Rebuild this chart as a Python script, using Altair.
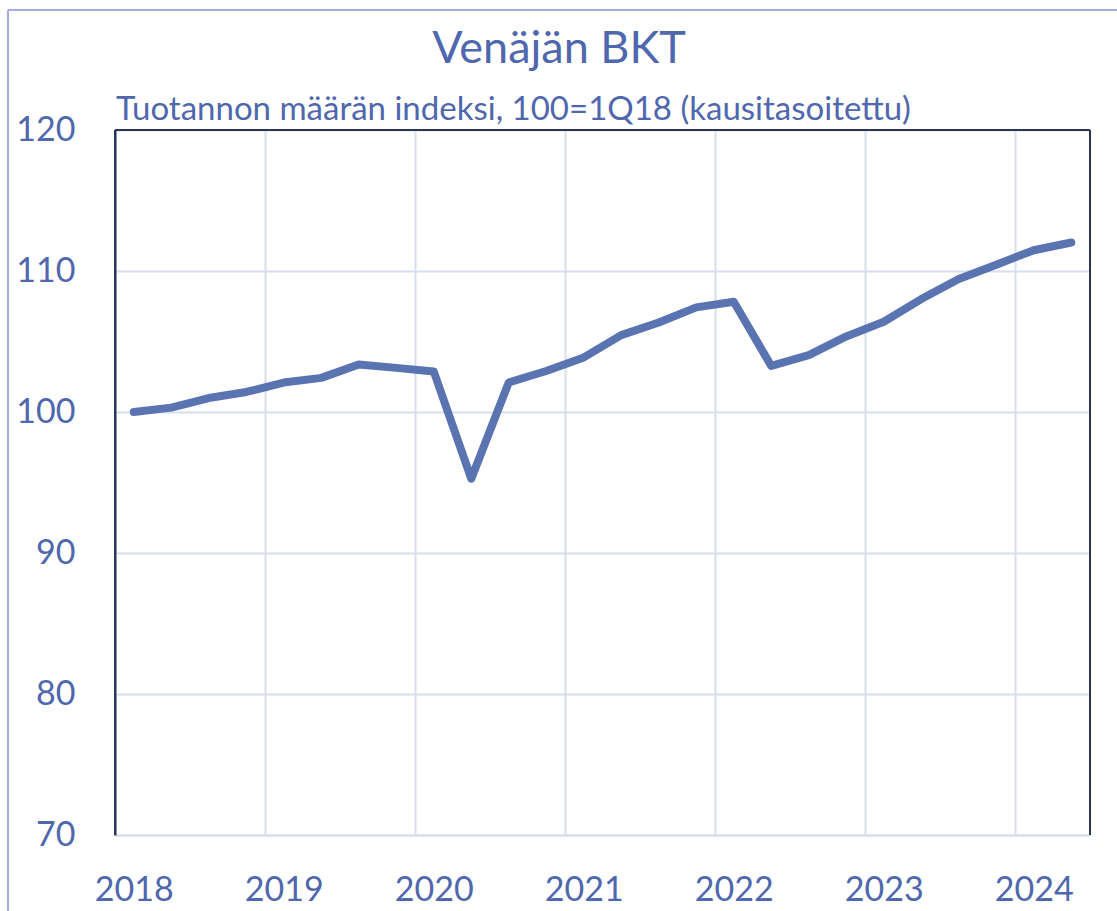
import altair as alt
import pandas as pd

quarters = ["1Q18", "2Q18", "3Q18", "4Q18",
            "1Q19", "2Q19", "3Q19", "4Q19",
            "1Q20", "2Q20", "3Q20", "4Q20",
            "1Q21", "2Q21", "3Q21", "4Q21",
            "1Q22", "2Q22", "3Q22", "4Q22",
            "1Q23", "2Q23", "3Q23", "4Q23",
            "1Q24", "2Q24"]
gdp_index = [100.0, 100.31, 100.99, 101.42,
             102.09, 102.42, 103.37, 103.13,
             102.87, 95.27, 102.09, 102.91,
             103.87, 105.45, 106.35, 107.42,
             107.82, 103.27, 104.03, 105.36,
             106.4, 108.01, 109.43, 110.45,
             111.47, 112.02]
years = [2018, 2019, 2020, 2021, 2022, 2023, 2024]
y_ticks = [70, 80, 90, 100, 110, 120]
title_text = "Venäjän BKT"
subtitle_text = "Tuotannon määrän indeksi, 100=1Q18 (kausitasoitettu)"

TEXT = "#4F67AD"
LINE = "#5A74B2"
GRID = "#D9DEEE"
BORDER = "#2B3556"
FRAME = "#A3AEDB"
FONT = "Lato"

W, H = 975, 705

# quarter label "nQyy" -> position at the middle of that quarter
t_pos = [2000 + int(q[2:]) + (int(q[0]) - 1) / 4 + 0.125 for q in quarters]
df = pd.DataFrame({"q": quarters, "t": t_pos, "v": gdp_index})

x_enc = alt.X(
    "t:Q",
    scale=alt.Scale(domain=[2018, 2024.5], nice=False, zero=False),
    axis=alt.Axis(
        title=None,
        values=years,
        format="d",
        labelOffset=18.75,
        labelAngle=0,
        grid=True,
        gridColor=GRID,
        gridWidth=2,
        ticks=False,
        domainColor=GRID,
        domainWidth=2,
        labelFont=FONT,
        labelFontSize=34,
        labelColor=TEXT,
        labelPadding=38,
        labelFlush=False,
        labelOverlap=False,
    ),
)
y_enc = alt.Y(
    "v:Q",
    scale=alt.Scale(domain=[70, 120], nice=False, zero=False),
    axis=alt.Axis(
        title=None,
        values=y_ticks,
        grid=True,
        gridColor=GRID,
        gridWidth=2,
        ticks=False,
        domainColor=BORDER,
        domainWidth=2,
        labelFont=FONT,
        labelFontSize=34,
        labelColor=TEXT,
        labelPadding=40,
        labelFlush=False,
    ),
)

line = alt.Chart(df).mark_line(
    color=LINE, strokeWidth=8, strokeCap="round", strokeJoin="round"
).encode(x=x_enc, y=y_enc)

one = pd.DataFrame({"a": [0]})
top_border = alt.Chart(one).mark_rule(color=BORDER, strokeWidth=2).encode(
    x=alt.value(0), x2=alt.value(W), y=alt.value(0))
left_border = alt.Chart(one).mark_rule(color=BORDER, strokeWidth=2).encode(
    x=alt.value(0), y=alt.value(0), y2=alt.value(H))
right_border = alt.Chart(one).mark_rule(color=BORDER, strokeWidth=2).encode(
    x=alt.value(W), y=alt.value(0), y2=alt.value(H))
frame_top = alt.Chart(one).mark_rule(color=FRAME, strokeWidth=2).encode(
    x=alt.value(-107), x2=alt.value(1117 - 115), y=alt.value(-120))
frame_left = alt.Chart(one).mark_rule(color=FRAME, strokeWidth=2).encode(
    x=alt.value(-107), y=alt.value(-120), y2=alt.value(911 - 130))

title = alt.Chart(pd.DataFrame({"t": [title_text]})).mark_text(
    font=FONT, fontSize=45, color=TEXT, align="center", baseline="alphabetic"
).encode(text="t:N", x=alt.value(444), y=alt.value(-67))
subtitle = alt.Chart(pd.DataFrame({"t": [subtitle_text]})).mark_text(
    font=FONT, fontSize=33, color=TEXT, align="left", baseline="alphabetic"
).encode(text="t:N", x=alt.value(1), y=alt.value(-10))

chart = alt.layer(
    line, top_border, left_border, right_border, frame_top, frame_left, title, subtitle
).properties(
    width=W, height=H,
    autosize=alt.AutoSizeParams(type="none"),
    padding={"left": 115, "top": 130, "right": 27, "bottom": 76},
    background="white",
).configure_view(stroke=None)

chart.save("out.html", embed_options={"renderer": "svg", "actions": False})
